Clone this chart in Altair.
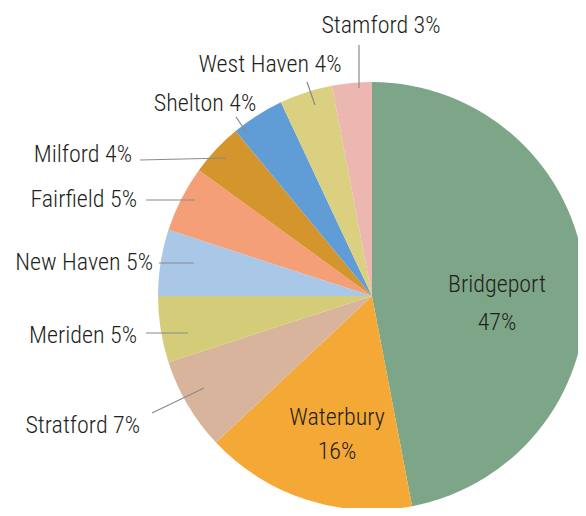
import altair as alt
import pandas as pd

# ---- data ----
cities = ["Bridgeport", "Waterbury", "Stratford", "Meriden", "New Haven",
          "Fairfield", "Milford", "Shelton", "West Haven", "Stamford"]
shares = [47, 16, 7, 5, 5, 5, 4, 4, 4, 3]
colors = ["#7da587", "#f4a836", "#d8b49c", "#d5cc7a", "#a9c8e8",
          "#f59f78", "#d4962c", "#609dd6", "#dbd080", "#ebb7b0"]

# ---- annotation layout (page pixels) ----
outside = ["Stratford", "Meriden", "New Haven", "Fairfield", "Milford",
           "Shelton", "West Haven", "Stamford"]
lead_x1 = [152, 146, 159, 146, 140, 236, 307, 359]
lead_y1 = [413, 333, 263, 200, 160, 117, 82, 45]
lead_x2 = [204, 188, 194, 195, 226, 247, 315, 359]
lead_y2 = [388, 333, 263, 200, 158, 133, 105, 88]
text_x = [140, 137, 153, 137, 132, 205, 270, 381]
text_y = [433, 343, 270, 207, 162, 111, 72, 33]
text_align = ["right", "right", "right", "right", "right", "center", "center", "center"]

inside = ["Bridgeport", "Waterbury"]
in_x = [497, 337]
in_y1 = [292, 425]
in_y2 = [330, 459]

M = 8  # page margin
CX, CY, R = 372 - M, 296 - M, 214
FONT = "Roboto Condensed, Noto Sans Condensed, Open Sans Condensed, Liberation Sans Narrow, DejaVu Sans Condensed, sans-serif"
FS = 24
TXT = "#231f20"

share_of = dict(zip(cities, shares))

df = pd.DataFrame({"city": cities, "share": shares, "order": list(range(len(cities)))})

pie = alt.Chart(df).mark_arc(outerRadius=R).encode(
    theta=alt.Theta("share:Q", stack=True),
    color=alt.Color("city:N", scale=alt.Scale(domain=cities, range=colors), legend=None),
    order=alt.Order("order:Q"),
    x=alt.value(CX),
    y=alt.value(CY),
)

lead = pd.DataFrame({
    "x1": [v - M for v in lead_x1], "y1": [v - M for v in lead_y1],
    "x2": [v - M for v in lead_x2], "y2": [v - M for v in lead_y2],
})
rules = alt.Chart(lead).mark_rule(color="#8a8a8a", strokeWidth=1.2).encode(
    x=alt.X("x1:Q", scale=None), y=alt.Y("y1:Q", scale=None),
    x2="x2:Q", y2="y2:Q",
)

lab = pd.DataFrame({
    "label": [f"{c} {share_of[c]}%" for c in outside],
    "x": [v - M for v in text_x], "y": [v - M for v in text_y],
    "align": text_align,
})

def text_layer(frame, align):
    return alt.Chart(frame).mark_text(
        align=align, baseline="alphabetic", font=FONT, fontSize=FS,
        fontWeight=300, color=TXT
    ).encode(x=alt.X("x:Q", scale=None), y=alt.Y("y:Q", scale=None), text="label:N")

t_right = text_layer(lab[lab["align"] == "right"], "right")
t_center = text_layer(lab[lab["align"] == "center"], "center")

inl = pd.DataFrame({
    "label": inside + [f"{share_of[c]}%" for c in inside],
    "x": [v - M for v in in_x] * 2,
    "y": [v - M for v in in_y1] + [v - M for v in in_y2],
})
t_in = text_layer(inl, "center")

chart = alt.layer(pie, rules, t_right, t_center, t_in).properties(
    width=570, height=500, autosize="none", padding=0, background="white"
).configure_view(stroke=None)

chart.save("out.html", embed_options={"renderer": "svg", "actions": False})
